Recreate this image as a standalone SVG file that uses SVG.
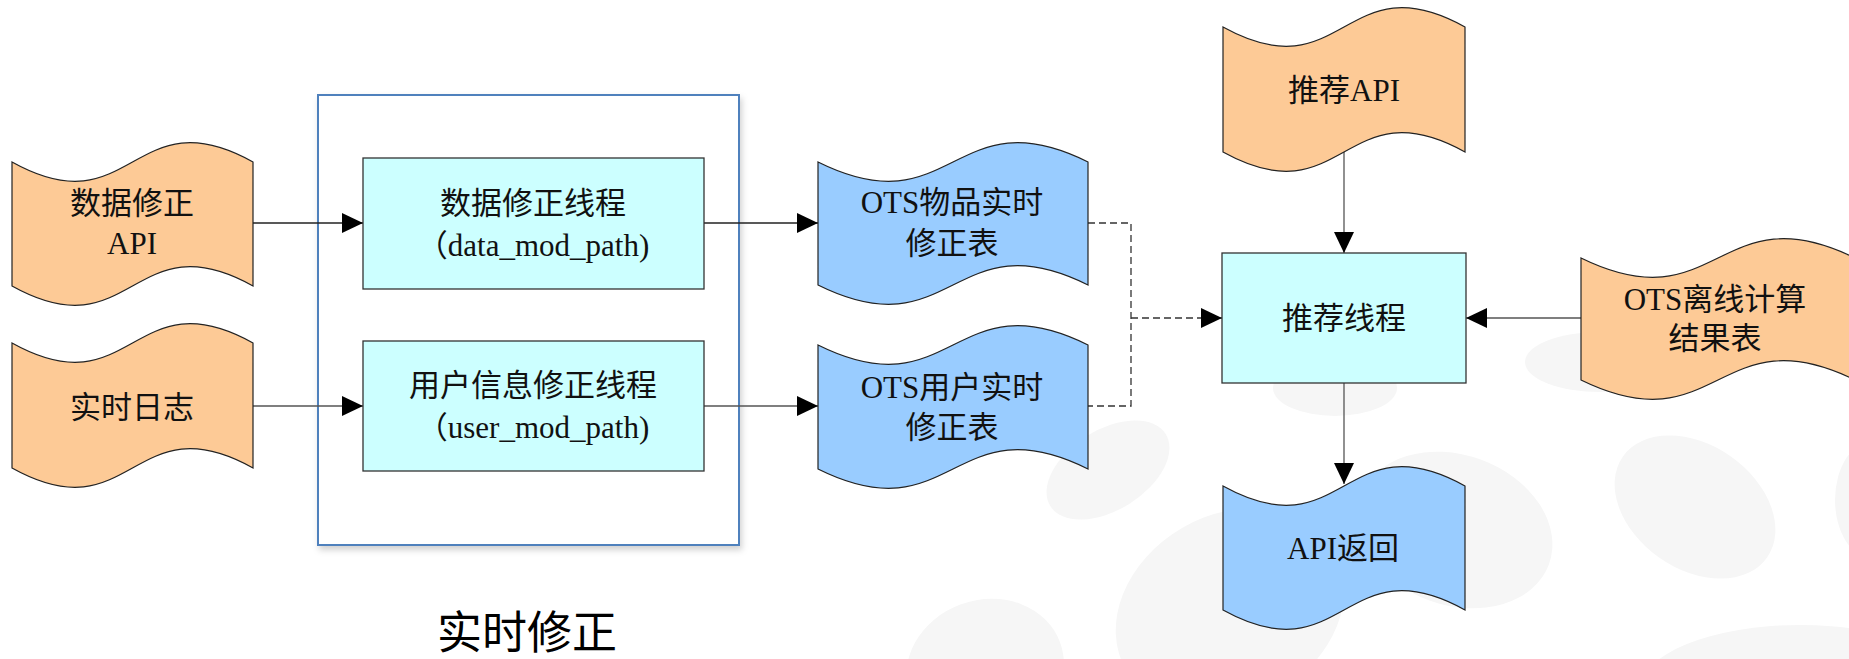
<svg xmlns="http://www.w3.org/2000/svg" width="1849" height="659" viewBox="0 0 1849 659">
<style>
.t{font-family:"Liberation Serif","Noto Sans CJK SC",serif;font-size:31px;fill:#111;text-anchor:middle}
.orange{fill:#fdca96;stroke:#222;stroke-width:1.2}
.blue{fill:#99ccff;stroke:#222;stroke-width:1.2}
.proc{fill:#ccffff;stroke:#333;stroke-width:1.3}
.ln{stroke:#222;stroke-width:1.3;fill:none;marker-end:url(#ah)}
.dash{stroke:#333;stroke-width:1.3;fill:none;stroke-dasharray:7 4}
.blob{fill:#f6f6f6}
</style>
<defs>
<marker id="ah" markerUnits="userSpaceOnUse" markerWidth="22" markerHeight="22" refX="21" refY="10" orient="auto">
<path d="M0,0 L21,10 L0,20 z" fill="#000"/>
</marker>
<filter id="sh" x="-5%" y="-5%" width="110%" height="110%">
<feDropShadow dx="2" dy="4" stdDeviation="3" flood-color="#000" flood-opacity="0.18"/>
</filter>
</defs>
<rect width="1849" height="659" fill="#ffffff"/>
<g id="background">
<ellipse class="blob" cx="1108" cy="470" rx="68" ry="40" transform="rotate(-32 1108 470)"/>
<ellipse class="blob" cx="1335" cy="388" rx="62" ry="28"/>
<ellipse class="blob" cx="1600" cy="362" rx="75" ry="30"/>
<ellipse class="blob" cx="1695" cy="507" rx="88" ry="62" transform="rotate(35 1695 507)"/>
<ellipse class="blob" cx="1455" cy="530" rx="100" ry="75" transform="rotate(20 1455 530)"/>
<ellipse class="blob" cx="1230" cy="610" rx="120" ry="95" transform="rotate(-30 1230 610)"/>
<ellipse class="blob" cx="985" cy="670" rx="80" ry="70" transform="rotate(-20 985 670)"/>
<ellipse class="blob" cx="1800" cy="690" rx="160" ry="65"/>
<ellipse class="blob" cx="1875" cy="500" rx="40" ry="60"/>
</g>
<g id="container">
<rect x="318" y="95" width="421" height="450" fill="#ffffff" stroke="#4f81bd" stroke-width="2" filter="url(#sh)"/>
</g>
<g id="connectors">
<line class="ln" x1="253" y1="223" x2="363" y2="223"/>
<line class="ln" x1="253" y1="406" x2="363" y2="406" style="stroke:#555"/>
<line class="ln" x1="704" y1="223" x2="818" y2="223"/>
<line class="ln" x1="704" y1="406" x2="818" y2="406" style="stroke:#555"/>
<path class="dash" d="M1088,223 H1131 V406 H1088"/>
<line class="dash" x1="1131" y1="318" x2="1222" y2="318" style="marker-end:url(#ah)"/>
<line class="ln" x1="1344" y1="152" x2="1344" y2="253" style="stroke:#555"/>
<line class="ln" x1="1581" y1="318" x2="1466" y2="318" style="stroke:#555"/>
<line class="ln" x1="1344" y1="383" x2="1344" y2="484" style="stroke:#555"/>
</g>
<g id="doc-data-api">
<path class="orange" d="M12,162 C132.5,229 132.5,95 253,162 V286 C132.5,219 132.5,353 12,286 Z"/>
<text class="t" x="132" y="214">数据修正</text>
<text class="t" x="132" y="254">API</text>
</g>
<g id="doc-log">
<path class="orange" d="M12,343 C132.5,410 132.5,276 253,343 V468 C132.5,401 132.5,535 12,468 Z"/>
<text class="t" x="132" y="418">实时日志</text>
</g>
<g id="proc-data">
<rect class="proc" x="363" y="158" width="341" height="131"/>
<text class="t" x="533" y="214">数据修正线程</text>
<text class="t" x="533" y="256">（data_mod_path)</text>
</g>
<g id="proc-user">
<rect class="proc" x="363" y="341" width="341" height="130"/>
<text class="t" x="533" y="396">用户信息修正线程</text>
<text class="t" x="533" y="438">（user_mod_path)</text>
</g>
<g id="doc-ots-item">
<path class="blue" d="M818,162 C953,229 953,95 1088,162 V285 C953,218 953,352 818,285 Z"/>
<text class="t" x="952" y="213">OTS物品实时</text>
<text class="t" x="952" y="254">修正表</text>
</g>
<g id="doc-ots-user">
<path class="blue" d="M818,345 C953,412 953,278 1088,345 V469 C953,402 953,536 818,469 Z"/>
<text class="t" x="952" y="398">OTS用户实时</text>
<text class="t" x="952" y="438">修正表</text>
</g>
<g id="doc-rec-api">
<path class="orange" d="M1223,27 C1344,94 1344,-40 1465,27 V152 C1344,85 1344,219 1223,152 Z"/>
<text class="t" x="1344" y="101">推荐API</text>
</g>
<g id="proc-rec">
<rect class="proc" x="1222" y="253" width="244" height="130"/>
<text class="t" x="1344" y="329">推荐线程</text>
</g>
<g id="doc-ots-offline">
<path class="orange" d="M1581,258 C1718,325 1718,191 1855,258 V380 C1718,313 1718,447 1581,380 Z"/>
<text class="t" x="1715" y="310">OTS离线计算</text>
<text class="t" x="1715" y="349">结果表</text>
</g>
<g id="doc-api-return">
<path class="blue" d="M1223,486 C1344,553 1344,419 1465,486 V610 C1344,543 1344,677 1223,610 Z"/>
<text class="t" x="1343" y="559">API返回</text>
</g>
<g id="title">
<text x="527" y="649" style="font-family:'Noto Sans CJK SC',sans-serif;font-size:45px;fill:#000;text-anchor:middle">实时修正</text>
</g>
</svg>
